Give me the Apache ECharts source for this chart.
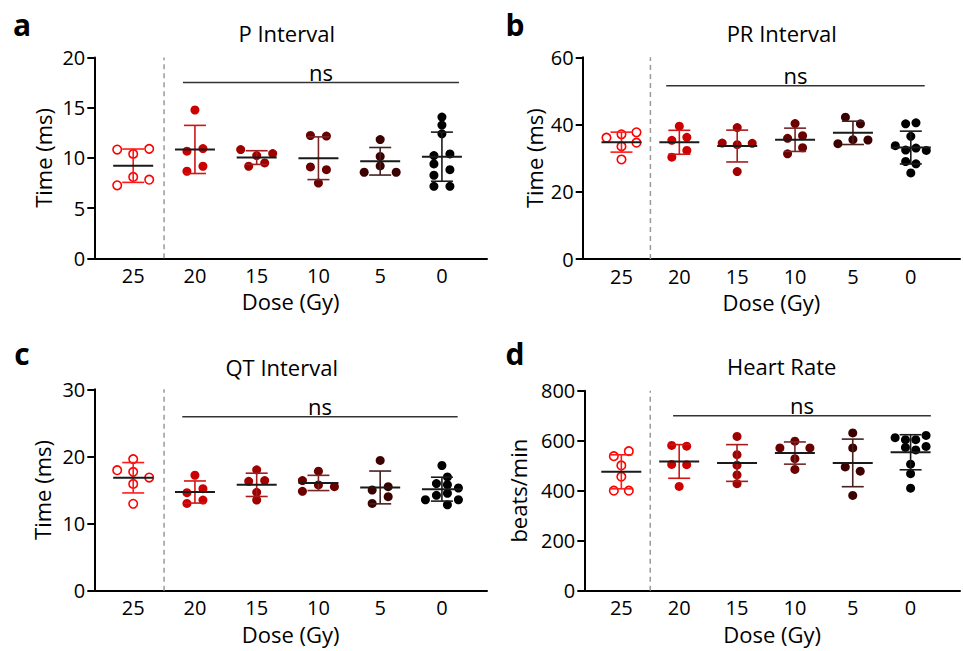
<!DOCTYPE html>
<html>
<head>
<meta charset="utf-8">
<script src="https://cdn.jsdelivr.net/npm/echarts@6/dist/echarts.min.js"></script>
<style>html,body{margin:0;padding:0;background:#fff}#chart{width:963px;height:651px}</style>
</head>
<body>
<div id="chart"></div>
<script>
// ---------- data ----------
const doseLabels = ['25', '20', '15', '10', '5', '0'];

// P interval (ms), one array per dose group (25, 20, 15, 10, 5, 0 Gy)
const pInterval = [
  [10.4, 10.83, 10.9, 8.1, 7.27, 7.83],
  [14.77, 10.93, 10.67, 9.17, 8.67],
  [10.23, 10.83, 10.43, 9.5, 9.17],
  [12.17, 12.23, 8.83, 9.1, 7.5],
  [11.83, 10.15, 9.2, 8.57, 8.57],
  [14.07, 13.27, 12.4, 10.4, 10.23, 8.83, 9.4, 8.27, 7.17, 7.17]
];
// PR interval (ms)
const prInterval = [
  [37.1, 36.1, 37.7, 33.5, 34.6, 29.6],
  [39.5, 36.2, 35.3, 32.3, 30.3],
  [39.1, 34.0, 34.5, 34.4, 26.0],
  [40.3, 36.7, 35.9, 33.1, 31.3],
  [40.2, 42.2, 35.5, 34.3, 35.4],
  [40.5, 40.2, 36.5, 33.0, 32.4, 32.3, 33.7, 28.3, 29.0, 25.6]
];
// QT interval (ms)
const qtInterval = [
  [19.6, 17.7, 17.95, 16.85, 15.9, 12.95],
  [17.2, 15.2, 14.6, 13.5, 13.0],
  [18.0, 16.4, 16.3, 14.65, 13.5],
  [17.8, 15.75, 16.4, 15.5, 14.8],
  [19.4, 15.5, 15.0, 14.0, 13.0],
  [18.65, 16.95, 15.95, 15.8, 15.3, 14.5, 14.2, 13.55, 13.55, 12.8]
];
// Heart rate (beats/min)
const heartRate = [
  [558, 538, 501, 456, 400, 400],
  [578, 581, 504, 505, 417],
  [617, 544, 502, 463, 428],
  [598, 571, 571, 528, 485],
  [631, 571, 478, 495, 381],
  [604, 604, 621, 612, 563, 573, 577, 506, 468, 410]
];

// ---------- styling ----------
const FONT = '"Open Sans", "DejaVu Sans", sans-serif';
const groupColors = ['#FF0000', '#CC0000', '#A00000', '#6B0000', '#3B0000', '#000000'];
const barColors = ['#FF1A1A', '#D01515', '#A51C1C', '#772626', '#472020', '#1A1A1A'];

const panels = [
  {letter: 'a', title: 'P Interval', yName: 'Time (ms)', values: pInterval, yMax: 20, yStep: 5,
   nsRange: [0.806, 5.276], nsY: 17.5, left: 94.3, top: 57.5, width: 392.7, height: 200.8,
   xMin: -0.63, xMax: 5.73, yGap: 40, titleX: 286.7, titleY: 32.5, letterX: 22, letterY: 24},
  {letter: 'b', title: 'PR Interval', yName: 'Time (ms)', values: prInterval, yMax: 60, yStep: 20,
   nsRange: [0.773, 5.24], nsY: 51.55, left: 582.7, top: 57.3, width: 402.3, height: 201.7,
   xMin: -0.67, xMax: 5.85, yGap: 38, titleX: 781.7, titleY: 32.5, letterX: 515, letterY: 24},
  {letter: 'c', title: 'QT Interval', yName: 'Time (ms)', values: qtInterval, yMax: 30, yStep: 10,
   nsRange: [0.795, 5.255], nsY: 25.9, left: 94.3, top: 389.3, width: 392.7, height: 201.4,
   xMin: -0.63, xMax: 5.73, yGap: 41, titleX: 281.7, titleY: 366.7, letterX: 22, letterY: 353},
  {letter: 'd', title: 'Heart Rate', yName: 'beats/min', values: heartRate, yMax: 800, yStep: 200,
   nsRange: [0.895, 5.35], nsY: 700, left: 584.3, top: 390.7, width: 400.7, height: 200,
   xMin: -0.64, xMax: 5.854, yGap: 55, titleX: 781.7, titleY: 366.3, letterX: 515, letterY: 353}
];

// ---------- helpers ----------
function meanSd(vals) {
  const n = vals.length;
  const m = vals.reduce((a, b) => a + b, 0) / n;
  const sd = Math.sqrt(vals.reduce((a, b) => a + (b - m) * (b - m), 0) / (n - 1));
  return {mean: m, sd: sd};
}

// simple beeswarm (pixel offsets) so overlapping points spread sideways
function swarm(vals, yPx, Dy) {
  const S = 16, h = 8, Wmax = 33;
  const ys = vals.map(v => -v * yPx);
  const xs = [];
  for (let i = 0; i < vals.length; i++) {
    let chosen = 0;
    for (let k = 0; k < 60; k++) {
      const c = k === 0 ? 0 : (k % 2 ? -Math.ceil(k / 2) : k / 2) * h;
      let ok = true;
      for (let j = 0; j < i; j++) {
        if (Math.abs(ys[i] - ys[j]) < Dy && Math.abs(c - xs[j]) < S - 1e-9) { ok = false; break; }
      }
      if (ok) { chosen = c; break; }
    }
    xs.push(chosen);
  }
  const order = vals.map((_, i) => i).sort((a, b) => ys[a] - ys[b]);
  const comps = [];
  let cur = [order[0]];
  for (let t = 1; t < order.length; t++) {
    if (ys[order[t]] - ys[order[t - 1]] < Dy) cur.push(order[t]);
    else { comps.push(cur); cur = [order[t]]; }
  }
  comps.push(cur);
  let W = 0;
  comps.forEach(c => {
    const mn = Math.min(...c.map(i => xs[i])), mx = Math.max(...c.map(i => xs[i]));
    const sh = -(mn + mx) / 2;
    c.forEach(i => { xs[i] += sh; });
    W = Math.max(W, mx - mn);
  });
  const f = W > Wmax ? Wmax / W : 1;
  return xs.map(x => x * f);
}

// ---------- build option ----------
const grid = [], xAxis = [], yAxis = [], series = [], graphic = [];

panels.forEach((p, i) => {
  grid.push({left: p.left, top: p.top, width: p.width, height: p.height, containLabel: false});
  xAxis.push({
    gridIndex: i, type: 'value', min: p.xMin, max: p.xMax, minInterval: 1, maxInterval: 1,
    axisLine: {show: true, onZero: false, lineStyle: {color: '#000', width: 2}},
    axisTick: {show: false}, splitLine: {show: false},
    axisLabel: {margin: 7, fontSize: 20, color: '#000', fontFamily: FONT,
      formatter: v => (Math.abs(v - Math.round(v)) < 1e-6 && v >= 0 && v <= 5) ? doseLabels[Math.round(v)] : ''},
    name: 'Dose (Gy)', nameLocation: 'middle', nameGap: 32,
    nameTextStyle: {fontSize: 22, color: '#000', fontFamily: FONT}
  });
  yAxis.push({
    gridIndex: i, type: 'value', min: 0, max: p.yMax, interval: p.yStep,
    axisLine: {show: true, onZero: false, lineStyle: {color: '#000', width: 2}},
    axisTick: {show: true, length: 7, lineStyle: {color: '#000', width: 2}},
    splitLine: {show: false},
    axisLabel: {margin: 9, fontSize: 20, color: '#000', fontFamily: FONT},
    name: p.yName, nameLocation: 'middle', nameGap: p.yGap, nameRotate: 90,
    nameTextStyle: {fontSize: 22, color: '#000', fontFamily: FONT}
  });

  const xPx = p.width / (p.xMax - p.xMin);
  const yPx = p.height / p.yMax;

  p.values.forEach((vals, g) => {
    const off = swarm(vals, yPx, g === 0 ? 9 : 7.1);
    series.push({
      type: 'scatter', xAxisIndex: i, yAxisIndex: i, silent: true, z: 3,
      symbol: 'circle', symbolSize: g === 0 ? 8.5 : 9,
      itemStyle: g === 0
        ? {color: 'rgba(255,255,255,0)', borderColor: groupColors[0], borderWidth: 1.6, opacity: 1}
        : {color: groupColors[g], opacity: 1},
      emphasis: {disabled: true},
      data: vals.map((v, k) => [g + off[k] / xPx, v])
    });
  });

  const stats = p.values.map(meanSd);
  series.push({
    type: 'custom', xAxisIndex: i, yAxisIndex: i, z: 5, silent: true, clip: false,
    data: stats.map((s, g) => [g, s.mean, s.sd]),
    renderItem: (params, api) => {
      const g = api.value(0), m = api.value(1), sd = api.value(2);
      const c = api.coord([g, m]), t = api.coord([g, m + sd]), b = api.coord([g, m - sd]);
      const st = {stroke: barColors[params.dataIndex], lineWidth: 1.6};
      return {type: 'group', children: [
        {type: 'line', shape: {x1: c[0], y1: t[1], x2: c[0], y2: b[1]}, style: st},
        {type: 'line', shape: {x1: c[0] - 11, y1: t[1], x2: c[0] + 11, y2: t[1]}, style: st},
        {type: 'line', shape: {x1: c[0] - 11, y1: b[1], x2: c[0] + 11, y2: b[1]}, style: st},
        {type: 'line', shape: {x1: c[0] - 20, y1: c[1], x2: c[0] + 20, y2: c[1]},
         style: {stroke: '#1a1a1a', lineWidth: 2}}
      ]};
    }
  });

  series.push({
    type: 'custom', xAxisIndex: i, yAxisIndex: i, z: 4, silent: true, clip: false,
    data: [[p.nsRange[0], p.nsY, p.nsRange[1]]],
    renderItem: (params, api) => {
      const a = api.coord([api.value(0), api.value(1)]);
      const b = api.coord([api.value(2), api.value(1)]);
      const s0 = api.coord([0.5, 0]), s1 = api.coord([0.5, p.yMax]);
      return {type: 'group', children: [
        {type: 'line', shape: {x1: s0[0], y1: s0[1], x2: s1[0], y2: s1[1]},
         style: {stroke: '#9a9a9a', lineWidth: 1.5, lineDash: [5, 4]}},
        {type: 'line', shape: {x1: a[0], y1: a[1], x2: b[0], y2: b[1]},
         style: {stroke: '#333', lineWidth: 1.5}},
        {type: 'text', x: (a[0] + b[0]) / 2, y: a[1] - 11,
         style: {text: 'ns', fill: '#000', fontSize: 22, fontFamily: FONT,
                 align: 'center', verticalAlign: 'middle', textAlign: 'center', textVerticalAlign: 'middle'}}
      ]};
    }
  });

  graphic.push({type: 'text', x: p.letterX, y: p.letterY, silent: true,
    style: {text: p.letter, fill: '#000', fontSize: 30, fontWeight: 'bold', fontFamily: FONT,
            align: 'center', verticalAlign: 'middle', textAlign: 'center', textVerticalAlign: 'middle'}});
  graphic.push({type: 'text', x: p.titleX, y: p.titleY, silent: true,
    style: {text: p.title, fill: '#000', fontSize: 22, fontFamily: FONT,
            align: 'center', verticalAlign: 'middle', textAlign: 'center', textVerticalAlign: 'middle'}});
});

const chart = echarts.init(document.getElementById('chart'), null, {renderer: 'svg', width: 963, height: 651});
chart.setOption({animation: false, backgroundColor: '#fff', grid, xAxis, yAxis, series, graphic});
</script>
</body>
</html>
